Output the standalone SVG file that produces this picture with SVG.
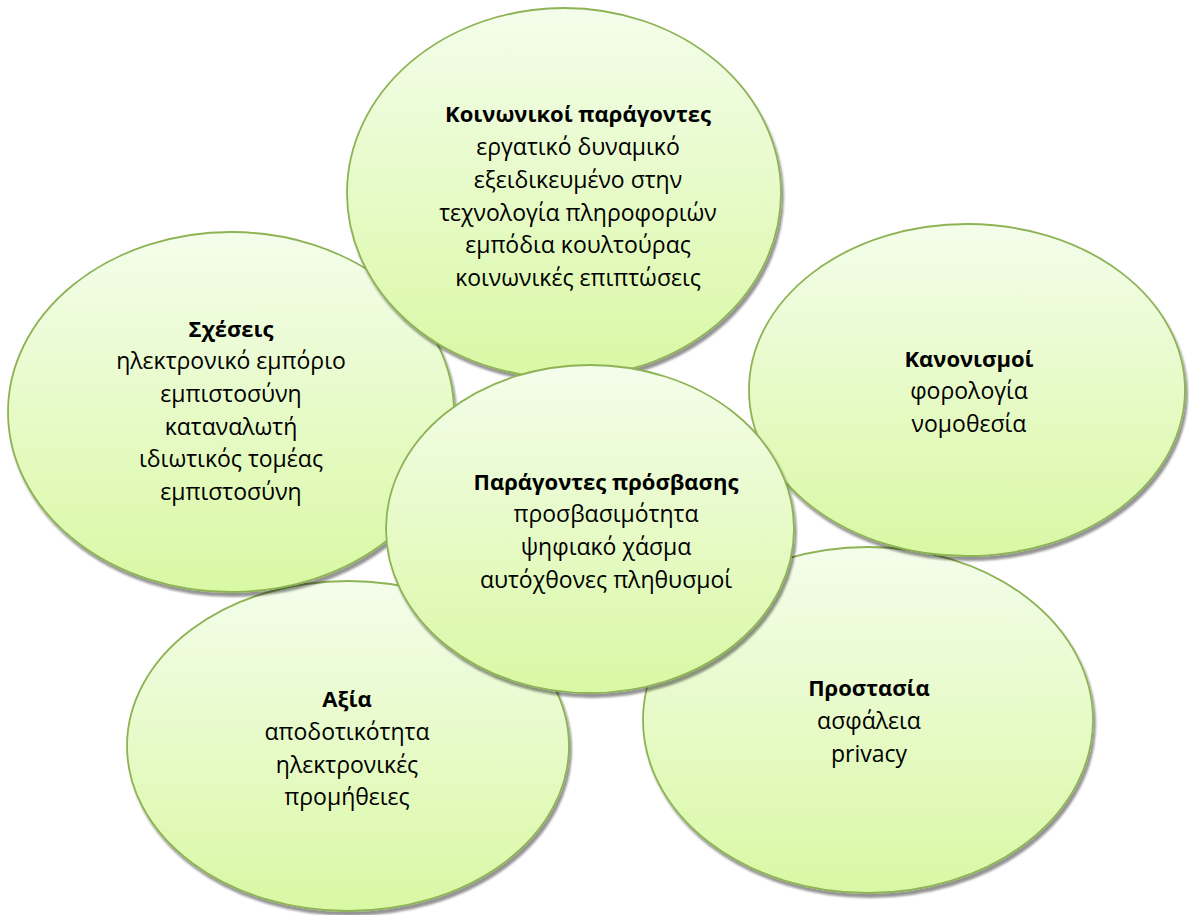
<svg xmlns="http://www.w3.org/2000/svg" width="1189" height="915" viewBox="0 0 1189 915">
<defs>
<linearGradient id="g" x1="0" y1="0" x2="0" y2="1">
<stop offset="0" stop-color="#f4fdeb"/>
<stop offset="1" stop-color="#d9f8a4"/>
</linearGradient>
<filter id="sh" x="-10%" y="-10%" width="125%" height="125%">
<feGaussianBlur in="SourceAlpha" stdDeviation="1.2"/>
<feOffset dx="2" dy="4" result="b"/>
<feFlood flood-color="#000" flood-opacity="0.42"/>
<feComposite in2="b" operator="in"/>
<feMerge><feMergeNode/><feMergeNode in="SourceGraphic"/></feMerge>
</filter>
</defs>
<style>
.n{fill:url(#g);stroke:#8db354;stroke-width:1.8;filter:url(#sh)}
text{font-family:"Open Sans","Noto Sans",sans-serif;font-size:23px;fill:#000;text-anchor:middle}
.t{font-weight:bold;font-size:22px}
</style>
<g id="connectors"/>
<g id="axia">
<ellipse class="n" cx="348" cy="746" rx="221" ry="165"/>
<text x="347" y="707" class="t">Αξία</text>
<text x="347" y="740">αποδοτικότητα</text>
<text x="347" y="773">ηλεκτρονικές</text>
<text x="347" y="805">προμήθειες</text>
</g>
<g id="prostasia">
<ellipse class="n" cx="868" cy="720" rx="225" ry="173"/>
<text x="869" y="696" class="t">Προστασία</text>
<text x="869" y="729">ασφάλεια</text>
<text x="869" y="762">privacy</text>
</g>
<g id="kanonismoi">
<ellipse class="n" cx="967" cy="390" rx="218" ry="166"/>
<text x="969" y="367" class="t">Κανονισμοί</text>
<text x="969" y="399">φορολογία</text>
<text x="969" y="432">νομοθεσία</text>
</g>
<g id="scheseis">
<ellipse class="n" cx="231" cy="412" rx="223" ry="180"/>
<text x="231" y="337" class="t">Σχέσεις</text>
<text x="231" y="369">ηλεκτρονικό εμπόριο</text>
<text x="231" y="402">εμπιστοσύνη</text>
<text x="231" y="435">καταναλωτή</text>
<text x="231" y="467">ιδιωτικός τομέας</text>
<text x="231" y="500">εμπιστοσύνη</text>
</g>
<g id="koinonikoi">
<ellipse class="n" cx="564" cy="193" rx="217" ry="185"/>
<text x="578" y="122" class="t">Κοινωνικοί παράγοντες</text>
<text x="578" y="155">εργατικό δυναμικό</text>
<text x="578" y="188">εξειδικευμένο στην</text>
<text x="578" y="221">τεχνολογία πληροφοριών</text>
<text x="578" y="253">εμπόδια κουλτούρας</text>
<text x="578" y="286">κοινωνικές επιπτώσεις</text>
</g>
<g id="center">
<ellipse class="n" cx="590" cy="529" rx="204" ry="164"/>
<text x="606" y="490" class="t">Παράγοντες πρόσβασης</text>
<text x="606" y="522">προσβασιμότητα</text>
<text x="606" y="555">ψηφιακό χάσμα</text>
<text x="606" y="588">αυτόχθονες πληθυσμοί</text>
</g>
</svg>
